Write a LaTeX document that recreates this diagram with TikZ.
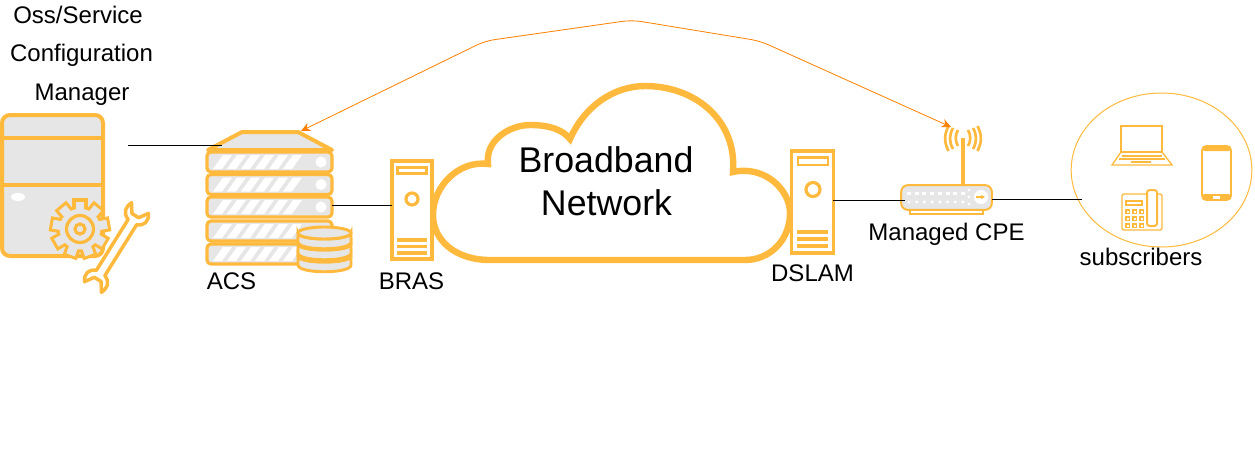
\documentclass[tikz,border=0pt]{standalone}
\usepackage{fontspec}
\setmainfont{Liberation Sans}
\usetikzlibrary{arrows.meta,shapes.geometric}
\definecolor{iconorange}{RGB}{255,185,60}
\definecolor{linkorange}{RGB}{255,128,0}
\definecolor{icongray}{RGB}{230,230,230}
\tikzset{every picture/.style={line width=0.75pt}}
\tikzset{
  heavyicon/.style={draw=iconorange,line width=3pt,fill=icongray},
  midicon/.style={draw=iconorange,line width=2.4pt},
  thinicon/.style={draw=iconorange,line width=1pt},
  towerbox/.style={midicon,fill=white,rectangle,outer sep=0pt,inner sep=0pt,minimum width=#1},
  label18/.style={inner sep=0pt,font=\fontsize{18}{20}\selectfont},
  label27/.style={inner sep=0pt,font=\fontsize{26.8}{30}\selectfont},
  link/.style={draw=black,line width=0.75pt},
  peerlink/.style={draw=linkorange,line width=0.6pt,rounded corners=7pt,{Stealth[length=7pt,width=6.5pt]}-{Stealth[length=7pt,width=6.5pt]}}
}

\begin{document}
\begin{tikzpicture}[x=0.75pt,y=0.75pt,yscale=-1,xscale=1]
\useasboundingbox (0,0) rectangle (1255,469);

%Manager box
\draw [heavyicon,rounded corners=6] (2,115) rectangle (103,256);
\draw [heavyicon] (2,138) -- (103,138) (2,185) -- (103,185);
\fill [white] (18,197) ellipse [x radius=7,y radius=4];
%Gear
\foreach \a in {0,40,...,320}
  \draw [shift={(80,229)},rotate=\a,draw=iconorange,line width=2.4pt,fill=icongray] (-6,-29) rectangle (6,-18);
\draw [draw=iconorange,line width=2.4pt,fill=icongray] (80,229) circle [radius=22];
\foreach \a in {0,40,...,320}
  \fill [shift={(80,229)},rotate=\a,icongray] (-4.4,-27.4) rectangle (4.4,-19);
\draw [draw=iconorange,line width=2.4pt] (80,229) circle [radius=13.5];
\draw [draw=iconorange,line width=2.4pt] (80,229) circle [radius=5];
%Wrench
\draw [shift={(116.5,247.5)},rotate=-58,draw=iconorange,line width=2.6pt,fill=white,line join=round]
  (-30,-5) -- (30,-5) .. controls (33,-13) and (39,-14) .. (46,-11) -- (37,-5) -- (37,3) -- (46,9)
  .. controls (39,14) and (33,12) .. (30,5) -- (-30,5) .. controls (-33,13) and (-39,14) .. (-46,11)
  -- (-37,5) -- (-37,-3) -- (-46,-9) .. controls (-39,-14) and (-33,-12) .. (-30,-5) -- cycle;

%ACS rack
\draw [heavyicon,line join=round] (208,150) -- (242,132) -- (298,132) -- (332,150) -- cycle;
\foreach \y in {152,174.5,197,221,244}{
  \draw [midicon,fill=icongray,rounded corners=3] (207,\y) rectangle (332,\y+20);
  \foreach \k in {0,...,5}
    \fill [white] (213+14*\k,\y+17) -- (222+14*\k,\y+17) -- (232+14*\k,\y+3) -- (223+14*\k,\y+3) -- cycle;
  \fill [white] (321,\y+10) circle [radius=5.5];
}
%Database
\foreach \y in {256,244,233}{
  \draw [midicon,line width=2.2pt,fill=icongray] (298,\y) -- (298,\y+9) .. controls (298,\y+18) and (351,\y+18) .. (351,\y+9) -- (351,\y)
    .. controls (351,\y+8) and (298,\y+8) .. (298,\y) -- cycle;
  \draw [midicon,line width=2.2pt,fill=icongray] (324.5,\y) ellipse [x radius=26.5,y radius=6];
}

%Cloud
\draw [draw=iconorange,line width=4.8pt,fill=white] (490,260) .. controls (455,260) and (433,240) .. (433,215)
  .. controls (433,185) and (460,160) .. (488,164) .. controls (485,140) and (510,125) .. (530,125)
  .. controls (550,125) and (563,130) .. (570,139) .. controls (585,105) and (615,86) .. (645,86)
  .. controls (695,86) and (737,120) .. (733,172) .. controls (765,165) and (790,190) .. (790,213)
  .. controls (790,240) and (770,260) .. (745,260) -- cycle;

%BRAS tower
\node (bras) [towerbox=30pt,minimum height=73.5pt] at (412,210) {};
\draw [midicon,line width=2.2pt] (397.5,167.5) rectangle (426.5,173.5);
\draw [midicon] (412,199) circle [radius=6];
\draw [midicon] (397,240) -- (427,240) (397,246.5) -- (427,246.5) (397,253) -- (427,253);

%DSLAM tower
\node (dslam) [towerbox=31pt,minimum height=76.5pt] at (812.5,202) {};
\draw [midicon,line width=2.2pt] (798,157.5) rectangle (828,165);
\draw [midicon] (813,189.5) circle [radius=7];
\draw [midicon] (797,232) -- (828,232) (797,239) -- (828,239) (797,246) -- (828,246);

%Router
\draw [thinicon,line width=1.5pt] (910,210) rectangle (983,214);
\node (router) [rectangle,rounded corners=5,draw=iconorange,line width=1.5pt,fill=icongray,outer sep=0pt,inner sep=0pt,minimum width=68pt,minimum height=18.5pt] at (946.5,197.5) {};
\foreach \k in {0,...,7}{
  \fill [white] (907+7.7*\k,192) rectangle (911+7.7*\k,195);
  \fill [white] (909+7.7*\k,202) circle [radius=1.7];
}
\fill [white] (969,190) circle [radius=1.7] (969,197) circle [radius=1.7] (969,204) circle [radius=1.7];
\fill [white] (981,197) circle [radius=7];
\draw [draw=iconorange,line width=1pt,-{Stealth[length=3pt,width=3pt]}] (976,197) -- (985,197);
\draw [draw=iconorange,line width=2.4pt] (963,185) -- (963,138);
\draw [draw=iconorange,line width=2pt]
  (958,130) .. controls (955,135) and (955,141) .. (958,146)
  (953,128) .. controls (949,135) and (949,142) .. (953,149)
  (948.5,126) .. controls (944,135) and (944,142) .. (948.5,151)
  (968,130) .. controls (971,135) and (971,141) .. (968,146)
  (973,128) .. controls (977,135) and (977,142) .. (973,149)
  (977.5,126) .. controls (982,135) and (982,142) .. (977.5,151);

%Subscribers
\node (subs) [ellipse,draw=iconorange,line width=0.75pt,outer sep=0pt,inner sep=0pt,minimum width=135.5pt,minimum height=115.5pt] at (1161.5,170) {};
%Laptop
\draw [thinicon] (1121,126) rectangle (1162,152);
\draw [thinicon] (1121,152) -- (1112,165) -- (1172,165) -- (1162,152);
\draw [thinicon] (1119,159) -- (1165,159);
\draw [thinicon] (1122,156) -- (1162,156);
\draw [thinicon] (1131,162) -- (1151,162);
%Smart phone
\draw [thinicon,line width=1.2pt,rounded corners=3] (1202,146) rectangle (1231,200);
\fill [iconorange,rounded corners=2] (1202,146) rectangle (1231,151);
\fill [iconorange,rounded corners=2] (1202,194) rectangle (1231,200);
\fill [white] (1213,196) rectangle (1220,198.5);
%Desk phone
\draw [thinicon,rounded corners=1.5] (1122,194) rectangle (1162,230);
\draw [thinicon,fill=white,line width=1.5pt,rounded corners=2] (1147,190) rectangle (1157,226);
\draw [thinicon] (1126,201) rectangle (1142,205);
\foreach \x in {1126,1133,1140}
  \foreach \y in {210,217,224}
    \draw [thinicon] (\x,\y) rectangle (\x+3.5,\y+3.5);

%Straight Lines
\coordinate (mgrport) at (128,145);
\coordinate (acstop) at (222,145);
\coordinate (acsport) at (332,205);
\coordinate (routerport) at (905,200);
\coordinate (routerout) at (992,199);
\coordinate (subsport) at (1082,199);
\coordinate (acspeer) at (301,131);
\coordinate (cpepeer) at (951,127);
\draw [link] (mgrport) -- (acstop);
\draw [link] (acsport) -- (acsport -| bras.west);
\draw [link] (dslam.east |- routerport) -- (routerport);
\draw [link] (routerout) -- (subsport);
%Curve Lines
\draw [peerlink] (acspeer) -- (485,41) -- (632,20) -- (760,41) -- (cpepeer);

% Text Node
\node (osslabel) [label18] at (78,15) {Oss/Service};
\node (configlabel) [label18] at (81.5,55) {Configuration};
\node (managerlabel) [label18] at (82,95) {Manager};
\node (acslabel) [label18] at (231.5,281) {ACS};
\node (braslabel) [label18] at (411.5,281) {BRAS};
\node (dslamlabel) [label18] at (812.5,273) {DSLAM};
\node (cpelabel) [label18] at (946.5,234) {Managed CPE};
\node (subslabel) [label18] at (1141,257) {subscribers};
\node (netlabel) [label27] at (606,160) {Broadband};
\node (netlabeltwo) [label27] at (606.5,203) {Network};

\end{tikzpicture}
\end{document}
